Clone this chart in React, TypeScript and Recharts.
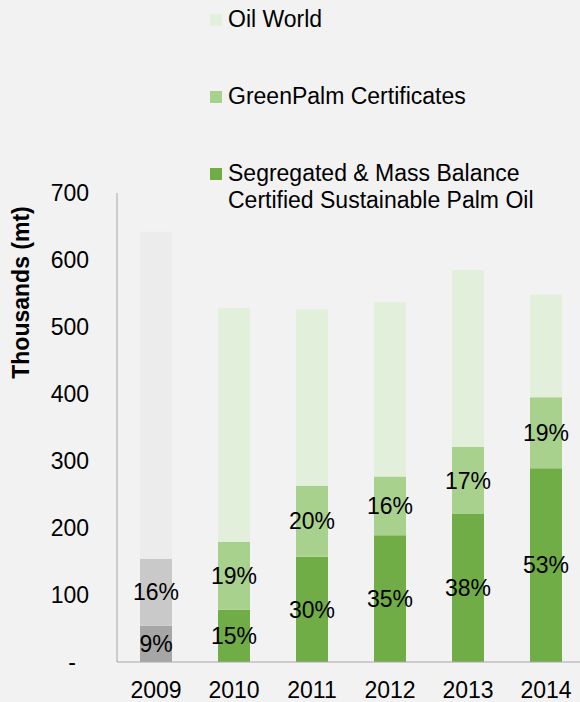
import { Bar, BarChart, Cell, LabelList, XAxis, YAxis } from "recharts";

const YEARS = ["2009", "2010", "2011", "2012", "2013", "2014"];
const SEGREGATED = [54, 78, 157, 189, 221, 289];
const GREENPALM = [100, 101, 106, 88, 100, 106];
const OIL_WORLD = [488, 349, 263, 260, 264, 153];
const SEG_PCT = ["9%", "15%", "30%", "35%", "38%", "53%"];
const GP_PCT = ["16%", "19%", "20%", "16%", "17%", "19%"];
const Y_TICKS = [0, 100, 200, 300, 400, 500, 600, 700];

const FONT = "'Liberation Sans', Arial, sans-serif";
const GREEN = ["#70ad47", "#a9d18e", "#e2efda"];
const GREY = ["#a6a6a6", "#c9c9c9", "#ececec"];

const LEGEND = [
  { label: ["Oil World"], color: GREEN[2] },
  { label: ["GreenPalm Certificates"], color: GREEN[1] },
  { label: ["Segregated & Mass Balance", "Certified Sustainable Palm Oil"], color: GREEN[0] },
];

const data = YEARS.map((year, i) => ({
  year,
  seg: SEGREGATED[i],
  gp: GREENPALM[i],
  ow: OIL_WORLD[i],
  segPct: SEG_PCT[i],
  gpPct: GP_PCT[i],
}));

function YTick(props: any) {
  const { y, payload } = props;
  const v = payload.value;
  return (
    <text
      x={v === 0 ? 76 : 89}
      y={y}
      dy={8}
      textAnchor="end"
      fontSize={23}
      fontFamily={FONT}
      fill="#000"
    >
      {v === 0 ? "-" : v}
    </text>
  );
}

function LegendBox() {
  return (
    <div
      style={{
        position: "absolute",
        left: 210,
        top: 6,
        fontFamily: FONT,
        fontSize: 23,
        color: "#000",
        lineHeight: "27px",
      }}
    >
      {LEGEND.map((it, i) => (
        <div key={i} style={{ display: "flex", alignItems: "flex-start", marginBottom: 50 }}>
          <span
            style={{
              display: "inline-block",
              width: 12,
              height: 12,
              background: it.color,
              marginTop: 8,
              marginRight: 6,
            }}
          />
          <div>
            {it.label.map((l) => (
              <div key={l}>{l}</div>
            ))}
          </div>
        </div>
      ))}
    </div>
  );
}

export default function App() {
  const labelStyle = { fontSize: 23, fontFamily: FONT, fill: "#000" };
  return (
    <div
      style={{
        position: "absolute",
        left: 0,
        top: 0,
        width: 580,
        height: 702,
        overflow: "hidden",
        background: "#f2f2f2",
      }}
    >
      <LegendBox />
      <BarChart
        width={590}
        height={702}
        data={data}
        margin={{ top: 193, right: 5, bottom: 10, left: 0 }}
        barCategoryGap={23}
        style={{ position: "absolute", left: 0, top: 0 }}
      >
        <XAxis
          dataKey="year"
          axisLine={{ stroke: "#a6a6a6" }}
          tickLine={false}
          tick={{ fontSize: 23, fontFamily: FONT, fill: "#000" }}
          dy={12}
        />
        <YAxis
          width={117}
          domain={[0, 700]}
          ticks={Y_TICKS}
          axisLine={{ stroke: "#a6a6a6" }}
          tickLine={false}
          tick={<YTick />}
          label={{
            value: "Thousands (mt)",
            angle: -90,
            position: "insideLeft",
            dx: 16,
            dy: -135,
            style: { fontSize: 23, fontFamily: FONT, fontWeight: "bold", fill: "#000", textAnchor: "middle" },
          }}
        />
        <Bar dataKey="seg" stackId="a" isAnimationActive={false}>
          {data.map((d, i) => (
            <Cell key={d.year} fill={i === 0 ? GREY[0] : GREEN[0]} />
          ))}
          <LabelList dataKey="segPct" position="center" style={labelStyle} />
        </Bar>
        <Bar dataKey="gp" stackId="a" isAnimationActive={false}>
          {data.map((d, i) => (
            <Cell key={d.year} fill={i === 0 ? GREY[1] : GREEN[1]} />
          ))}
          <LabelList dataKey="gpPct" position="center" style={labelStyle} />
        </Bar>
        <Bar dataKey="ow" stackId="a" isAnimationActive={false}>
          {data.map((d, i) => (
            <Cell key={d.year} fill={i === 0 ? GREY[2] : GREEN[2]} />
          ))}
        </Bar>
      </BarChart>
    </div>
  );
}
